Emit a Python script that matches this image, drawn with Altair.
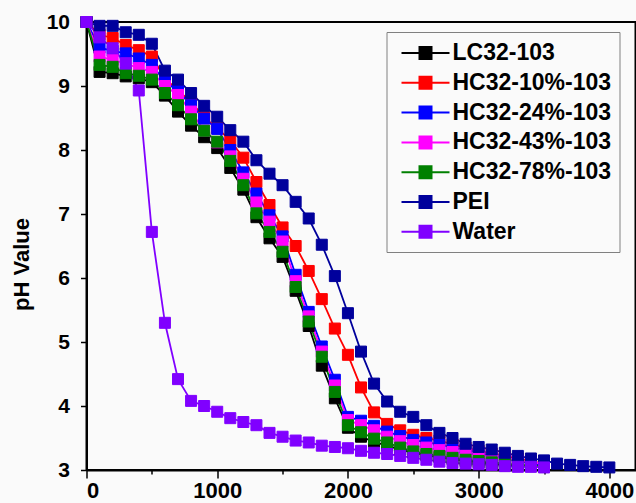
import altair as alt
import pandas as pd

names = ["LC32-103", "HC32-10%-103", "HC32-24%-103", "HC32-43%-103",
         "HC32-78%-103", "PEI", "Water"]
colors = ["#000000", "#ff0000", "#0000ff", "#ff00ff", "#008000", "#00009c", "#8000ff"]

x_short = list(range(0, 3600, 100))
x_long = list(range(0, 4100, 100))

lc32 = [10, 9.22, 9.20, 9.15, 9.12, 9.06, 8.85, 8.60, 8.38, 8.20, 8.03, 7.72, 7.38, 6.95,
        6.62, 6.33, 5.80, 5.25, 4.63, 4.12, 3.66, 3.52, 3.44, 3.38, 3.32, 3.27, 3.23, 3.20,
        3.17, 3.14, 3.12, 3.10, 3.08, 3.07, 3.06, 3.05]
hc10 = [10, 9.80, 9.75, 9.64, 9.56, 9.46, 9.12, 8.93, 8.75, 8.51, 8.34, 8.15, 7.88, 7.50,
        7.14, 6.79, 6.50, 6.11, 5.67, 5.21, 4.80, 4.29, 3.90, 3.72, 3.62, 3.55, 3.50, 3.46,
        3.40, 3.35, 3.30, 3.26, 3.22, 3.18, 3.14, 3.10]
hc24 = [10, 9.60, 9.55, 9.51, 9.43, 9.33, 9.07, 8.92, 8.70, 8.49, 8.33, 8.00, 7.65, 7.32,
        6.98, 6.65, 6.05, 5.47, 4.93, 4.41, 3.83, 3.77, 3.69, 3.60, 3.53, 3.47, 3.43, 3.40,
        3.35, 3.32, 3.27, 3.22, 3.18, 3.14, 3.10, 3.07]
hc43 = [10, 9.46, 9.41, 9.35, 9.28, 9.22, 9.00, 8.86, 8.60, 8.30, 8.12, 7.90, 7.55, 7.18,
        6.88, 6.57, 5.95, 5.40, 4.85, 4.32, 3.78, 3.70, 3.62, 3.52, 3.45, 3.39, 3.35, 3.31,
        3.28, 3.26, 3.24, 3.21, 3.18, 3.15, 3.12, 3.10]
hc78 = [10, 9.33, 9.30, 9.20, 9.16, 9.10, 8.89, 8.70, 8.48, 8.30, 8.13, 7.83, 7.45, 7.01,
        6.72, 6.41, 5.86, 5.32, 4.77, 4.22, 3.70, 3.59, 3.49, 3.43, 3.35, 3.29, 3.25, 3.22,
        3.19, 3.16, 3.14, 3.12, 3.10, 3.08, 3.07, 3.06]
pei = [10, 9.94, 9.94, 9.84, 9.80, 9.66, 9.24, 9.10, 8.89, 8.69, 8.52, 8.31, 8.13, 7.84,
       7.63, 7.45, 7.19, 6.93, 6.52, 6.03, 5.45, 4.85, 4.35, 4.07, 3.91, 3.83, 3.70, 3.58,
       3.50, 3.41, 3.36, 3.32, 3.27, 3.22, 3.18, 3.15, 3.10, 3.08, 3.06, 3.05, 3.04]
water = [10, 9.76, 9.59, 9.35, 8.93, 6.72, 5.30, 4.42, 4.08, 4.00, 3.91, 3.81, 3.75, 3.70,
         3.58, 3.52, 3.46, 3.43, 3.38, 3.36, 3.34, 3.30, 3.27, 3.25, 3.22, 3.19, 3.16, 3.13,
         3.11, 3.10, 3.09, 3.08, 3.06, 3.05, 3.05, 3.04]

series_x = [x_short, x_short, x_short, x_short, x_short, x_long, x_short]
series_y = [lc32, hc10, hc24, hc43, hc78, pei, water]

rows = []
for k, (name, xs, ys) in enumerate(zip(names, series_x, series_y)):
    for x, y in zip(xs, ys):
        rows.append({"series": name, "vol": x, "ph": y, "k": k})
df = pd.DataFrame(rows)

FONT = "Liberation Sans"
col_scale = alt.Scale(domain=names, range=colors)
sym_path = "M-2,0H2M-0.5,-0.5H0.5V0.5H-0.5Z"
leg = alt.Legend(
    title=None, orient="none", legendX=300, legendY=10,
    symbolType=sym_path, symbolSize=576, symbolStrokeWidth=2,
    labelFont=FONT, labelFontSize=23, labelFontWeight="bold", labelColor="#000000",
    strokeColor="#808080", fillColor="#fafafa", padding=8, rowPadding=4.8,
    symbolOffset=18, labelOffset=14, labelLimit=400,
)

x_enc = alt.X(
    "vol:Q",
    scale=alt.Scale(domain=[0, 4200], nice=False, zero=False),
    axis=alt.Axis(
        title=None, values=list(range(0, 4001, 500)), format="d",
        labelExpr="datum.value % 1000 === 0 ? datum.label : ''",
        labelFont=FONT, labelFontSize=22, labelFontWeight="bold", labelColor="#000000",
        labelPadding=2, grid=False, domainColor="#000000", domainWidth=2,
        tickColor="#000000", tickWidth=1.5,
        tickSize={"condition": {"test": "datum.value % 1000 === 0", "value": 8}, "value": 4},
    ),
)
y_enc = alt.Y(
    "ph:Q",
    scale=alt.Scale(domain=[3, 10], nice=False, zero=False),
    axis=alt.Axis(
        title="pH Value", values=[3, 3.5, 4, 4.5, 5, 5.5, 6, 6.5, 7, 7.5, 8, 8.5, 9, 9.5, 10],
        format="d", labelExpr="datum.value % 1 === 0 ? datum.label : ''",
        labelFont=FONT, labelFontSize=21, labelFontWeight="bold", labelColor="#000000",
        labelPadding=11, grid=False, domainColor="#000000", domainWidth=2,
        tickColor="#000000", tickWidth=1.5,
        tickSize={"condition": {"test": "datum.value % 1 === 0", "value": 6}, "value": 4},
        titleFont=FONT, titleFontSize=22, titleFontWeight="bold", titleColor="#000000",
        titleX=-58, titleY=242, titleBaseline="alphabetic",
    ),
)

lines = alt.Chart(df).mark_line(strokeWidth=1.8).encode(
    x=x_enc, y=y_enc,
    stroke=alt.Stroke("series:N", scale=col_scale, legend=leg),
)
points = alt.Chart(df).mark_point(shape="square", filled=True, size=121, strokeWidth=1, opacity=1).encode(
    x=x_enc, y=y_enc,
    fill=alt.Fill("series:N", scale=col_scale, legend=leg),
    stroke=alt.Stroke("series:N", scale=col_scale, legend=leg),
)

chart = alt.layer(lines, points).properties(
    width=549, height=448,
    background="#fafafa",
    padding={"left": 86.5, "top": 22, "right": 0, "bottom": 33},
    autosize=alt.AutoSizeParams(type="none"),
).configure_view(stroke="#000000", strokeWidth=2, fill="#fafafa")

chart.save("out.html", embed_options={"renderer": "svg", "actions": False})
